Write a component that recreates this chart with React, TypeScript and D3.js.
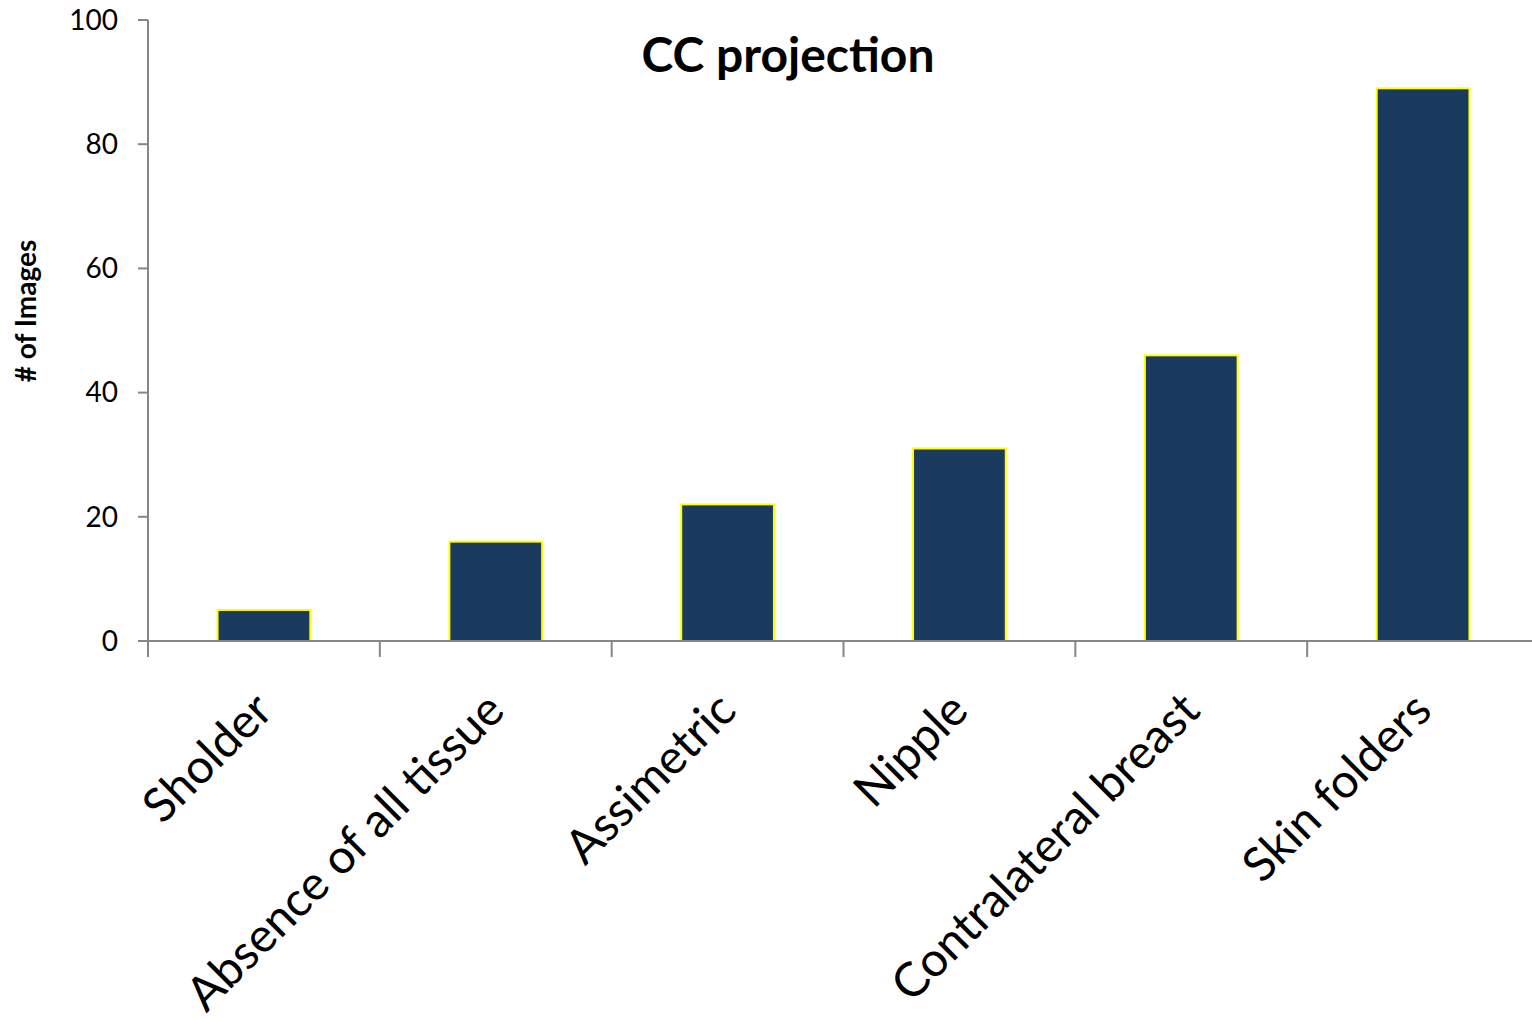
import React from "react";
import * as d3 from "d3";

const categories = ["Sholder", "Absence of all tissue", "Assimetric", "Nipple", "Contralateral breast", "Skin folders"];
const values = [5, 16, 22, 31, 46, 89];
const yTicks = [0, 20, 40, 60, 80, 100];
const title = "CC projection";
const yLabel = "# of Images";

const W = 1532;
const H = 1022;
const FONT = "Lato, 'Open Sans', sans-serif";

export default function App() {
  const x = d3.scaleBand<string>().domain(categories).range([148, 1539]).paddingInner(0.6).paddingOuter(0.3);
  const band = d3.scaleBand<string>().domain(categories).range([148, 1539]);
  const y = d3.scaleLinear().domain([0, 100]).range([641, 20]);
  const axisColor = "#868686";

  return (
    <div style={{ position: "absolute", left: 0, top: 0 }}>
      <svg width={W} height={H} style={{ display: "block", background: "#fff" }}>
        <text x={788} y={72} textAnchor="middle" fontFamily={FONT} fontWeight="bold" fontSize={48} fill="#000">{title}</text>
        <text transform={`translate(36,${311}) rotate(-90)`} textAnchor="middle" fontFamily={FONT} fontWeight="bold" fontSize={28} fill="#000">{yLabel}</text>
        {categories.map((c, i) => (
          <rect key={c} x={x(c)!} y={y(values[i])} width={x.bandwidth()} height={y(0) - y(values[i])} fill="#1a3a5f" stroke="#ffff00" strokeWidth={2} />
        ))}
        <line x1={148} x2={148} y1={y(100)} y2={y(0)} stroke={axisColor} strokeWidth={2} />
        {yTicks.map((t) => (
          <g key={t}>
            <line x1={138} x2={148} y1={y(t)} y2={y(t)} stroke={axisColor} strokeWidth={2} />
            <text x={118} y={y(t)} dy="0.35em" textAnchor="end" fontFamily={FONT} fontSize={28} fill="#000">{t}</text>
          </g>
        ))}
        <line x1={138} x2={W} y1={y(0)} y2={y(0)} stroke={axisColor} strokeWidth={2} />
        {categories.map((c) => (
          <line key={c} x1={band(c)!} x2={band(c)!} y1={y(0)} y2={y(0) + 16} stroke={axisColor} strokeWidth={2} />
        ))}
        {categories.map((c) => {
          const cx = band(c)! + band.bandwidth() / 2;
          return (
            <text key={c} transform={`translate(${cx + 11},${y(0) + 72}) rotate(-45)`} textAnchor="end" fontFamily={FONT} fontSize={47.5} fill="#000">{c}</text>
          );
        })}
      </svg>
    </div>
  );
}
